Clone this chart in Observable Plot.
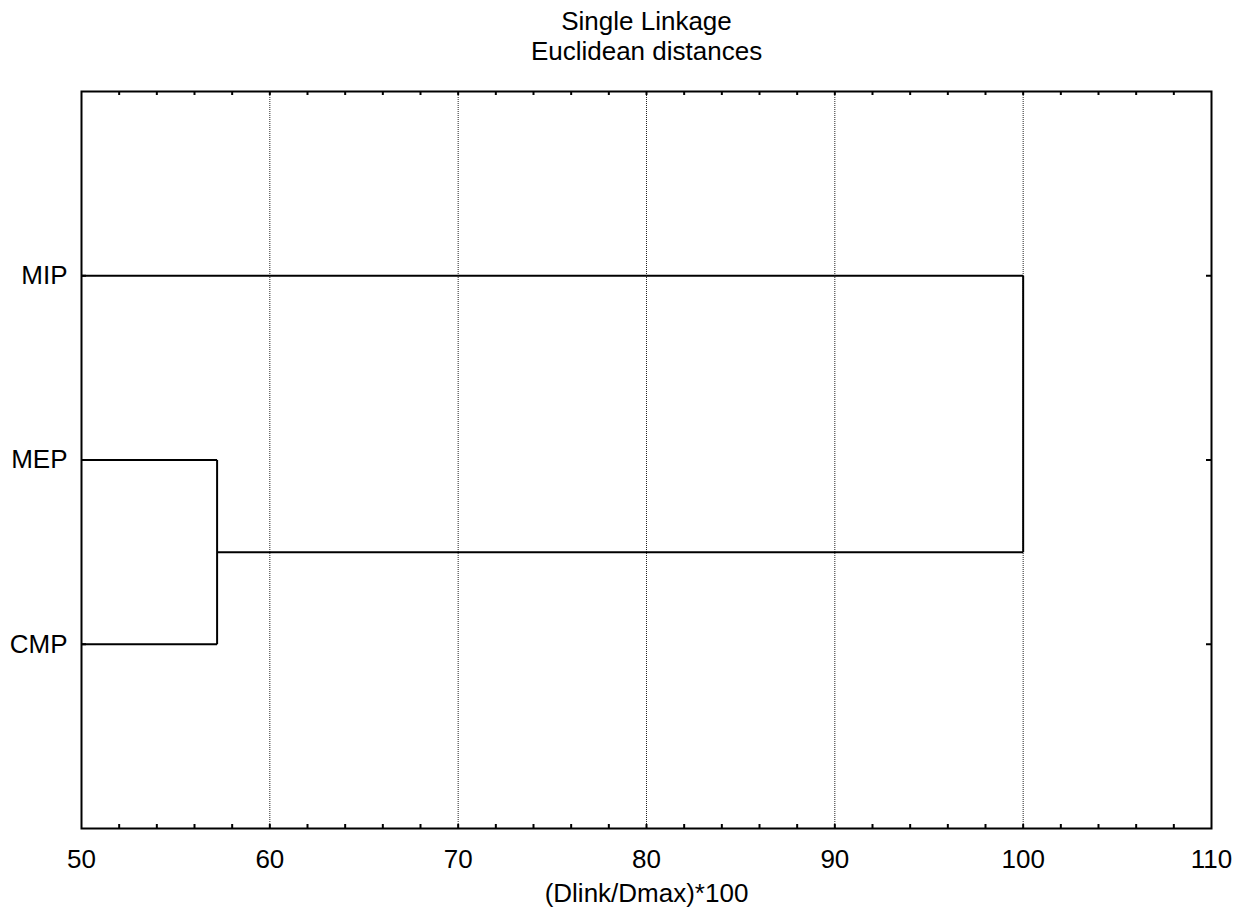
<!DOCTYPE html>
<html>
<head>
<meta charset="utf-8">
<script src="https://cdn.jsdelivr.net/npm/d3@7"></script>
<script src="https://cdn.jsdelivr.net/npm/@observablehq/plot@0.6"></script>
<style>
  html, body { margin: 0; padding: 0; background: #fff; }
</style>
</head>
<body>
<div id="chart"></div>
<script>
// ---- data ----
const titleLines = ["Single Linkage", "Euclidean distances"];
const xLabel = "(Dlink/Dmax)*100";
const leafNames = ["MIP", "MEP", "CMP"];       // top to bottom
const leafPositions = [1, 2, 3];
const mergeA = ["MEP", "MIP"];
const mergeB = ["CMP", "MEP+CMP"];
const mergeDist = [57.2, 100.0];
const xTicks = [50, 60, 70, 80, 90, 100, 110];
const gridTicks = [60, 70, 80, 90, 100];
const xDomain = [50, 110];
const yDomain = [0, 4];

// ---- build dendrogram segments ----
const pos = {};
leafNames.forEach((n, i) => { pos[n] = {x: xDomain[0], y: leafPositions[i]}; });
const segments = [];
mergeDist.forEach((d, i) => {
  const a = pos[mergeA[i]], b = pos[mergeB[i]];
  segments.push({x1: a.x, y1: a.y, x2: d, y2: a.y});
  segments.push({x1: b.x, y1: b.y, x2: d, y2: b.y});
  segments.push({x1: d, y1: a.y, x2: d, y2: b.y});
  pos[mergeA[i] + "+" + mergeB[i]] = {x: d, y: (a.y + b.y) / 2};
});

const W = 1247, H = 918;
const mL = 81, mR = 36, mT = 91, mB = 90;
const plotW = W - mL - mR, plotH = H - mT - mB;
const minorTicks = d3.range(52, 110, 2);
const font = "'Liberation Sans', Arial, Helvetica, sans-serif";

const chart = Plot.plot({
  width: W,
  height: H,
  marginLeft: mL, marginRight: mR, marginTop: mT, marginBottom: mB,
  style: {fontFamily: font, fontSize: "26px", background: "#fff", color: "#000"},
  x: {domain: xDomain, axis: null},
  y: {domain: yDomain, reverse: true, axis: null},
  marks: [
    Plot.ruleX(gridTicks, {x: d => d, stroke: "#222", strokeWidth: 1, strokeDasharray: "1,1"}),
    Plot.link(segments, {x1: "x1", y1: "y1", x2: "x2", y2: "y2", stroke: "#000", strokeWidth: 2}),
    Plot.tickX(minorTicks, {x: d => d, insetBottom: plotH - 4, stroke: "#000", strokeWidth: 2}),
    Plot.tickX(minorTicks, {x: d => d, insetTop: plotH - 4, stroke: "#000", strokeWidth: 2}),
    Plot.tickY(leafPositions, {y: d => d, insetLeft: plotW - 5, stroke: "#000", strokeWidth: 2}),
    Plot.tickY(leafPositions, {y: d => d, insetRight: plotW - 5, stroke: "#000", strokeWidth: 2}),
    Plot.frame({stroke: "#000", strokeWidth: 2}),
    Plot.axisX({ticks: xTicks, tickSize: 0, tickPadding: 21, anchor: "bottom", label: null, fontSize: 26, tickFormat: d => String(d)}),
    Plot.axisY({ticks: leafPositions, tickSize: 0, tickPadding: 14, anchor: "left", label: null, fontSize: 26, tickFormat: d => leafNames[leafPositions.indexOf(d)]}),
    Plot.text([xLabel], {text: d => d, frameAnchor: "bottom", dy: 65, lineAnchor: "middle", fontSize: 26, fill: "#000"}),
    Plot.text([titleLines.join("\n")], {text: d => d, frameAnchor: "top", dy: -56, lineAnchor: "middle", lineHeight: 1.13, fontSize: 26, fill: "#000"})
  ]
});
document.getElementById("chart").appendChild(chart);
</script>
</body>
</html>
